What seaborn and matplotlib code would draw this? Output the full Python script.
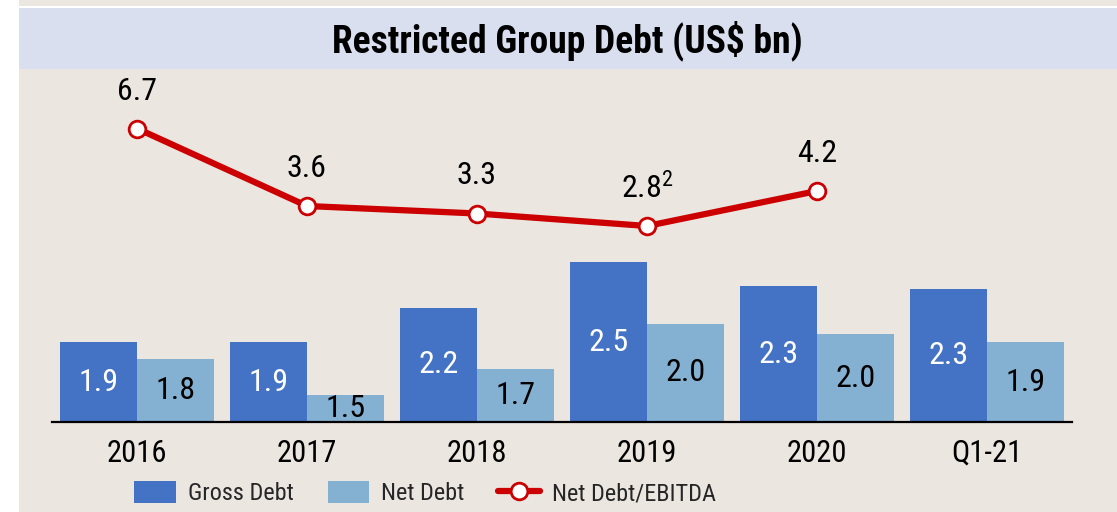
import pandas as pd
import seaborn as sns
import matplotlib.pyplot as plt
from matplotlib.patches import Rectangle, Patch
from matplotlib.lines import Line2D

# values (bar heights estimated, labels are rounded to 1dp)
periods = ['2016', '2017', '2018', '2019', '2020', 'Q1-21']
gross_debt = [1.90, 1.90, 2.16, 2.50, 2.32, 2.30]
net_debt = [1.77, 1.50, 1.70, 2.04, 1.96, 1.90]
ratio_periods = ['2016', '2017', '2018', '2019', '2020']
net_debt_ebitda = [6.7, 3.6, 3.3, 2.8, 4.2]
ratio_labels = ['6.7', '3.6', '3.3', '2.8$^{2}$', '4.2']

bg = '#EBE6E0'
band = '#D9DFEF'
blue = '#4472C4'
light_blue = '#84B0D1'
red = '#CC0000'

sns.set_theme(style='white')
plt.rcParams['font.family'] = ['Roboto Condensed', 'Roboto', 'DejaVu Sans']
plt.rcParams['mathtext.default'] = 'regular'

df = pd.DataFrame({
    'period': periods * 2,
    'value': gross_debt + net_debt,
    'series': ['Gross Debt'] * len(periods) + ['Net Debt'] * len(periods),
})

W, H = 1117, 512
fig = plt.figure(figsize=(W / 100, H / 100), dpi=100)
fig.patch.set_facecolor(bg)

# white strip on the left, title band and white separator line
fig.patches.append(Rectangle((0, 0), 19 / W, 1, transform=fig.transFigure,
                             facecolor='white', edgecolor='none', zorder=0))
fig.patches.append(Rectangle((19 / W, 1 - 8 / H), 1, 2 / H, transform=fig.transFigure,
                             facecolor='white', edgecolor='none', zorder=0))
fig.patches.append(Rectangle((19 / W, 1 - 69 / H), 1, 61 / H, transform=fig.transFigure,
                             facecolor=band, edgecolor='none', zorder=0))
fig.text(567 / W, 1 - 41 / H, 'Restricted Group Debt (US$ bn)', ha='center', va='center',
         fontsize=27, fontweight='bold', color='black')

ax = fig.add_axes([52 / W, (H - 422) / H, (1072 - 52) / W, (422 - 75) / H])
ax.set_facecolor('none')
sns.barplot(data=df, x='period', y='value', hue='series', order=periods,
            palette=[blue, light_blue], width=0.906, saturation=1, linewidth=0,
            legend=False, ax=ax)
ax.set_xlim(-0.5, 5.5)
ax.set_ylim(1.3, 1.3 + 347 / 133)
ax.set_xlabel('')
ax.set_ylabel('')
ax.set_yticks([])
for s in ['top', 'left', 'right']:
    ax.spines[s].set_visible(False)
ax.spines['bottom'].set_color('black')
ax.spines['bottom'].set_linewidth(1.6)
ax.tick_params(axis='x', length=0, pad=12, labelsize=22, labelcolor='black')

# bar value labels, centered inside the visible bar
for cont, col in zip(ax.containers, ['white', 'black']):
    for rect in cont:
        h = rect.get_height()
        xc = rect.get_x() + rect.get_width() / 2
        ax.text(xc, (1.3 + h) / 2, f'{h:.1f}', ha='center', va='center',
                fontsize=23, color=col)

# Net Debt/EBITDA line on its own scale
ax2 = ax.twinx()
x_pos = [periods.index(p) for p in ratio_periods]
sns.lineplot(x=x_pos, y=net_debt_ebitda, ax=ax2, color=red, linewidth=4.5,
             marker='o', markersize=12, markerfacecolor='white',
             markeredgecolor=red, markeredgewidth=2)
ax2.set_ylim(-5.04, 8.84)
ax2.set_xlim(-0.5, 5.5)
ax2.set_yticks([])
ax2.set_ylabel('')
for s in ax2.spines.values():
    s.set_visible(False)
for xp, v, lab in zip(x_pos, net_debt_ebitda, ratio_labels):
    ax2.annotate(lab, (xp, v), xytext=(0, 27), textcoords='offset points',
                 ha='center', va='center', fontsize=23, color='black')

handles = [
    Patch(facecolor=blue, edgecolor='none'),
    Patch(facecolor=light_blue, edgecolor='none'),
    Line2D([0], [0], color=red, linewidth=4.5, marker='o', markersize=12,
           markerfacecolor='white', markeredgecolor=red, markeredgewidth=2),
]
fig.legend(handles, ['Gross Debt', 'Net Debt', 'Net Debt/EBITDA'], loc='center',
           bbox_to_anchor=(425 / W, 1 - 493 / H), ncol=3, frameon=False,
           fontsize=17.5, handlelength=1.7, handleheight=1.0, columnspacing=1.4,
           handletextpad=0.5)

fig.savefig('out.png', dpi=100, facecolor=fig.get_facecolor())
